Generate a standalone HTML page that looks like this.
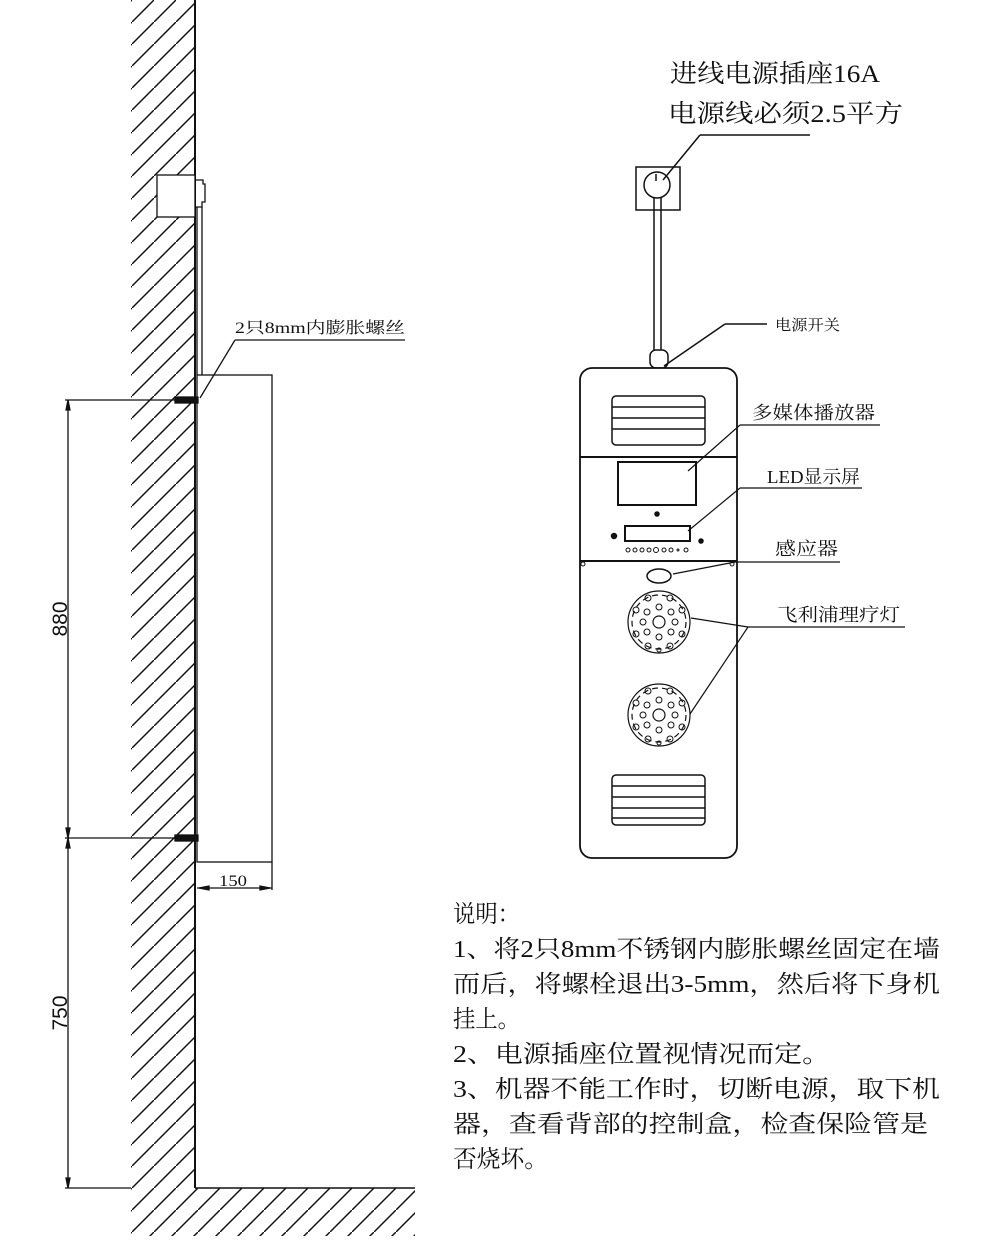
<!DOCTYPE html>
<html><head><meta charset="utf-8"><style>
html,body{margin:0;padding:0;background:#fff;}
svg{display:block;}
text{font-family:"Liberation Serif","Noto Serif CJK SC",serif;fill:#111;}
</style></head><body>
<svg width="1000" height="1250" viewBox="0 0 1000 1250" xmlns="http://www.w3.org/2000/svg">
<defs>
<pattern id="h" patternUnits="userSpaceOnUse" width="22" height="22">
<line x1="-2" y1="24" x2="24" y2="-2" stroke="#111" stroke-width="1.5"/>
</pattern>
</defs>
<g stroke="#111" fill="none" stroke-width="1.3">
<rect x="131" y="0" width="64" height="1188" fill="url(#h)" stroke="none"/>
<rect x="131" y="1188" width="284" height="48" fill="url(#h)" stroke="none"/>
<line x1="195" y1="0" x2="195" y2="1188" stroke-width="2"/>
<line x1="195" y1="1188" x2="415" y2="1188" stroke-width="1.6"/>
<rect x="157" y="175" width="38" height="42" fill="#fff"/>
<path d="M195 180 h8 v4 h2 v18 h-3 v5 h-7" />
<line x1="197" y1="207" x2="197" y2="375"/>
<line x1="202" y1="207" x2="202" y2="375"/>
<rect x="197" y="375" width="75" height="487" fill="#fff"/>
<rect x="175" y="397" width="23" height="6" fill="#111"/>
<rect x="175" y="835" width="23" height="6" fill="#111"/>
<line x1="235" y1="340" x2="405" y2="340"/>
<line x1="235" y1="340" x2="200" y2="398"/>
<line x1="65" y1="400" x2="195" y2="400"/>
<line x1="65" y1="838" x2="195" y2="838"/>
<line x1="65" y1="1188" x2="131" y2="1188"/>
<line x1="68" y1="400" x2="68" y2="1188"/>
<path d="M68 400 l-2 10 h4z M68 838 l-2 -10 h4z M68 838 l-2 10 h4z M68 1188 l-2 -10 h4z" fill="#111"/>
<line x1="272" y1="862" x2="272" y2="890"/>
<line x1="197" y1="888" x2="272" y2="888"/>
<path d="M199 888 l10 -2 v4z M270 888 l-10 -2 v4z" fill="#111"/>
</g>
<text x="235" y="333" font-size="16" textLength="170" lengthAdjust="spacingAndGlyphs">2只8mm内膨胀螺丝</text>
<text x="219" y="886" font-size="16" textLength="28" lengthAdjust="spacingAndGlyphs">150</text>
<text transform="translate(67,619) rotate(-90)" font-size="21" text-anchor="middle" style="font-family:'Liberation Sans',sans-serif">880</text>
<text transform="translate(67,1013) rotate(-90)" font-size="21" text-anchor="middle" style="font-family:'Liberation Sans',sans-serif">750</text>

<g stroke="#111" fill="none" stroke-width="1.5">
<rect x="636" y="167" width="44" height="43"/>
<circle cx="657" cy="185" r="13"/>
<line x1="656" y1="174" x2="656" y2="181"/>
<line x1="654" y1="198" x2="654" y2="352"/>
<line x1="661" y1="198" x2="661" y2="352"/>
<rect x="650" y="350" width="18" height="18" rx="6" fill="#fff"/>
<line x1="700" y1="135" x2="810" y2="135"/>
<line x1="700" y1="135" x2="663" y2="180"/>
<line x1="767" y1="324" x2="725" y2="324"/>
<line x1="725" y1="324" x2="664" y2="366"/>
<rect x="580" y="368" width="157" height="490" rx="12" fill="#fff" stroke-width="1.8"/>
<rect x="612" y="396" width="93" height="49" rx="4"/>
<line x1="612" y1="407" x2="705" y2="407"/>
<line x1="612" y1="418" x2="705" y2="418"/>
<line x1="612" y1="429" x2="705" y2="429"/>
<line x1="580" y1="457" x2="737" y2="457" stroke-width="2"/>
<rect x="618" y="462" width="78" height="43" stroke-width="2"/>
<circle cx="657" cy="514" r="2" fill="#111"/>
<rect x="625" y="526" width="65" height="15" stroke-width="2"/>
<circle cx="614" cy="536" r="2.5" fill="#111"/>
<circle cx="701" cy="541" r="2" fill="#111"/>
<g stroke-width="1">
<circle cx="628" cy="550" r="2"/><circle cx="635" cy="550" r="2"/><circle cx="642" cy="550" r="2"/><circle cx="649" cy="550" r="2"/><circle cx="656" cy="550" r="2.5"/><circle cx="664" cy="550" r="2"/><circle cx="671" cy="550" r="2"/><circle cx="678" cy="550" r="1"/><circle cx="686" cy="550" r="2"/>
</g>
<line x1="580" y1="561" x2="737" y2="561" stroke-width="2"/>
<circle cx="583" cy="564" r="2" stroke-width="1"/>
<circle cx="732" cy="564" r="2" stroke-width="1"/>
<ellipse cx="659" cy="576" rx="12" ry="7"/>
<g stroke-width="1.2">
<circle cx="659" cy="622" r="31"/><circle cx="659" cy="622" r="27" stroke-dasharray="6 4"/><circle cx="659" cy="622" r="6"/>
<circle cx="659" cy="715" r="31"/><circle cx="659" cy="715" r="27" stroke-dasharray="6 4"/><circle cx="659" cy="715" r="6"/>
</g>
<g stroke-width="1">
<circle cx="647" cy="612" r="3"/><circle cx="659" cy="607" r="3"/><circle cx="671" cy="612" r="3"/><circle cx="647" cy="632" r="3"/><circle cx="659" cy="637" r="3"/><circle cx="671" cy="632" r="3"/><circle cx="643" cy="622" r="3"/><circle cx="675" cy="622" r="3"/><circle cx="636" cy="610" r="3"/><circle cx="682" cy="610" r="3"/><circle cx="636" cy="634" r="3"/><circle cx="682" cy="634" r="3"/><circle cx="648" cy="598" r="3"/><circle cx="670" cy="598" r="3"/><circle cx="648" cy="646" r="3"/><circle cx="670" cy="646" r="3"/><circle cx="659" cy="650" r="2"/>
<circle cx="647" cy="705" r="3"/><circle cx="659" cy="700" r="3"/><circle cx="671" cy="705" r="3"/><circle cx="647" cy="725" r="3"/><circle cx="659" cy="730" r="3"/><circle cx="671" cy="725" r="3"/><circle cx="643" cy="715" r="3"/><circle cx="675" cy="715" r="3"/><circle cx="636" cy="703" r="3"/><circle cx="682" cy="703" r="3"/><circle cx="636" cy="727" r="3"/><circle cx="682" cy="727" r="3"/><circle cx="648" cy="691" r="3"/><circle cx="670" cy="691" r="3"/><circle cx="648" cy="739" r="3"/><circle cx="670" cy="739" r="3"/><circle cx="659" cy="743" r="2"/>
</g>
<rect x="612" y="775" width="93" height="50" rx="4"/>
<line x1="612" y1="786" x2="705" y2="786"/>
<line x1="612" y1="797" x2="705" y2="797"/>
<line x1="612" y1="808" x2="705" y2="808"/>
<line x1="612" y1="818" x2="705" y2="818"/>
<g stroke-width="1.2">
<line x1="740" y1="425" x2="880" y2="425"/><line x1="740" y1="425" x2="688" y2="471"/>
<line x1="740" y1="488" x2="862" y2="488"/><line x1="740" y1="488" x2="688" y2="531"/>
<line x1="735" y1="562" x2="840" y2="562"/><line x1="735" y1="562" x2="673" y2="574"/>
<line x1="748" y1="627" x2="905" y2="627"/><line x1="748" y1="627" x2="691" y2="618"/><line x1="748" y1="627" x2="690" y2="714"/>
</g>
</g>
<text x="670" y="82" font-size="25" textLength="210" lengthAdjust="spacingAndGlyphs">进线电源插座16A</text>
<text x="668" y="122" font-size="25" textLength="235" lengthAdjust="spacingAndGlyphs">电源线必须2.5平方</text>
<text x="775" y="330" font-size="15" textLength="65" lengthAdjust="spacingAndGlyphs">电源开关</text>
<text x="752" y="419" font-size="18" textLength="123" lengthAdjust="spacingAndGlyphs">多媒体播放器</text>
<text x="767" y="483" font-size="18" textLength="93" lengthAdjust="spacingAndGlyphs">LED显示屏</text>
<text x="775" y="555" font-size="18" textLength="63" lengthAdjust="spacingAndGlyphs">感应器</text>
<text x="777" y="621" font-size="18" textLength="123" lengthAdjust="spacingAndGlyphs">飞利浦理疗灯</text>
<g font-size="24">
<text x="453" y="922" textLength="67" lengthAdjust="spacingAndGlyphs">说明：</text>
<text x="453" y="957" textLength="487" lengthAdjust="spacingAndGlyphs">1、将2只8mm不锈钢内膨胀螺丝固定在墙</text>
<text x="453" y="992" textLength="487" lengthAdjust="spacingAndGlyphs">而后，将螺栓退出3-5mm，然后将下身机</text>
<text x="453" y="1027" textLength="67" lengthAdjust="spacingAndGlyphs">挂上。</text>
<text x="453" y="1062" textLength="377" lengthAdjust="spacingAndGlyphs">2、电源插座位置视情况而定。</text>
<text x="453" y="1097" textLength="487" lengthAdjust="spacingAndGlyphs">3、机器不能工作时，切断电源，取下机</text>
<text x="453" y="1132" textLength="475" lengthAdjust="spacingAndGlyphs">器，查看背部的控制盒，检查保险管是</text>
<text x="453" y="1167" textLength="95" lengthAdjust="spacingAndGlyphs">否烧坏。</text>
</g>
</svg>
</body></html>
